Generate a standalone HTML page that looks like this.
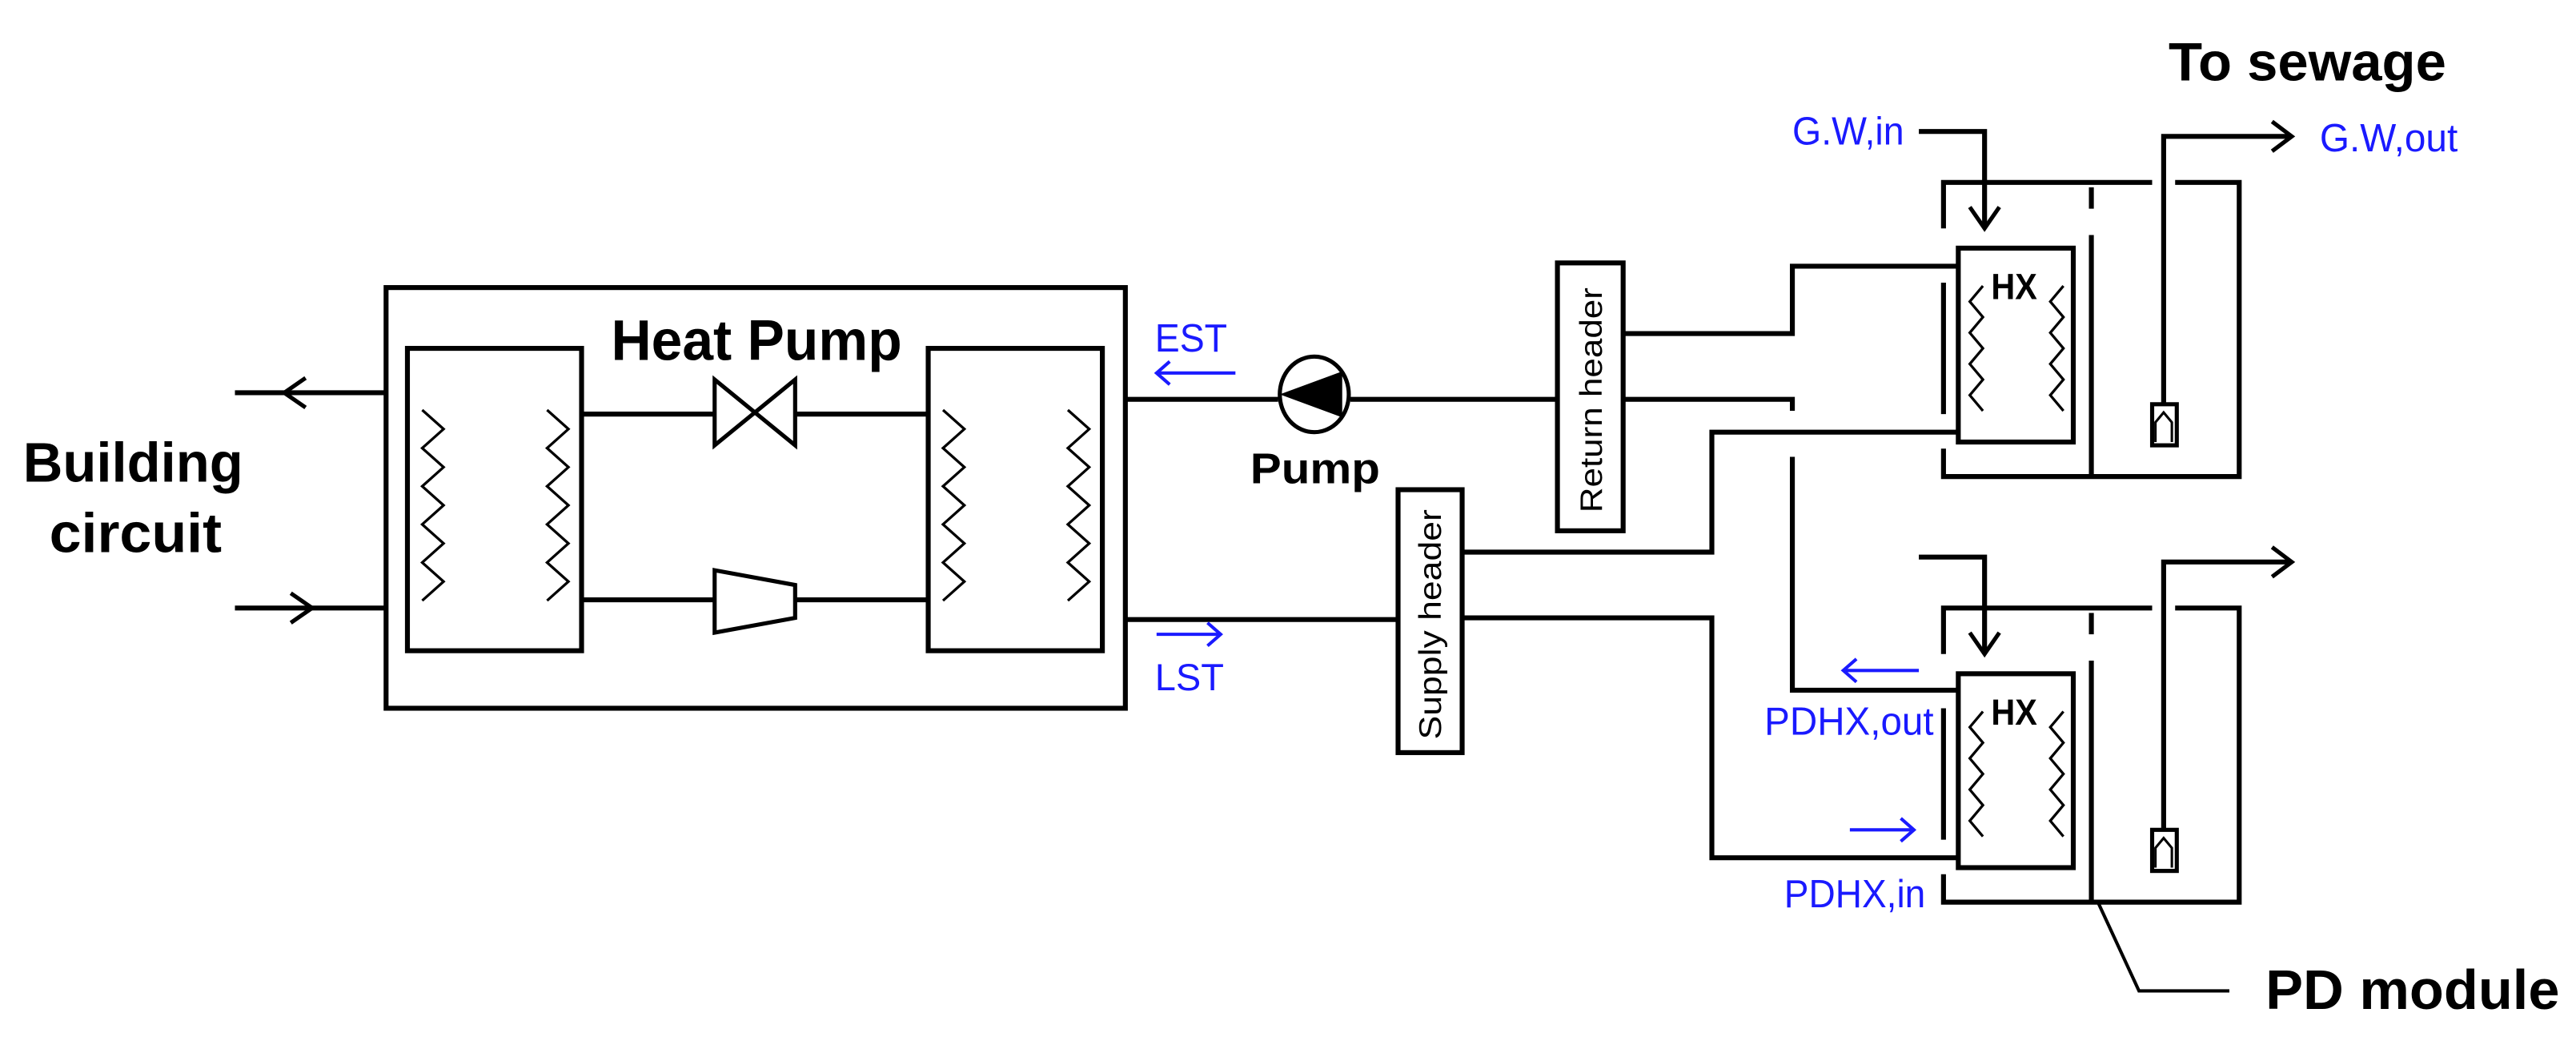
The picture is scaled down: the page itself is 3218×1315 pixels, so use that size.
<!DOCTYPE html>
<html><head><meta charset="utf-8"><style>
html,body{margin:0;padding:0;background:#fff;}
svg{display:block;}
text{font-family:"Liberation Sans",Arial,sans-serif;}
.b{font-weight:bold;fill:#000;}
.bl{fill:#1a1aff;}
</style></head><body>
<svg width="3218" height="1315" viewBox="0 0 1568 640.8" preserveAspectRatio="none" xmlns="http://www.w3.org/2000/svg">
<defs>
<polyline id="zz" points="0,0 13,11.6 0,23.2 13,34.8 0,46.4 13,58 0,69.6 13,81.2 0,92.8 13,104.4 0,116" fill="none" stroke="#000" stroke-width="1.6"/>
<polyline id="zs" points="8,0 0,9.5 8,19 0,28.5 8,38 0,47.5 8,57 0,66.5 8,76" fill="none" stroke="#000" stroke-width="1.6"/>
</defs>
<g fill="none" stroke="#000" stroke-width="3">
<!-- heat pump -->
<rect x="235" y="175" width="450" height="256"/>
<rect x="248" y="212" width="106" height="184"/>
<rect x="565" y="212" width="106" height="184"/>
<line x1="354" y1="252" x2="435" y2="252"/><line x1="484" y1="252" x2="565" y2="252"/>
<path d="M435 231 L435 271 L484 231 L484 271 Z" stroke-width="2.5"/>
<line x1="354" y1="365" x2="435" y2="365"/><line x1="484" y1="365" x2="565" y2="365"/>
<path d="M435 347 L484 356 L484 376 L435 385 Z" stroke-width="2.5"/>
<!-- building -->
<line x1="143" y1="239" x2="235" y2="239"/>
<polyline points="186,230 173,239 186,248" stroke-width="2.5"/>
<line x1="143" y1="370" x2="235" y2="370"/>
<polyline points="177,361 190,370 177,379" stroke-width="2.5"/>
<!-- pump line -->
<line x1="685" y1="243" x2="778" y2="243"/>
<line x1="822" y1="243" x2="948" y2="243"/>
<ellipse cx="800" cy="240" rx="21" ry="23" stroke-width="2.5"/>
<line x1="685" y1="377" x2="851" y2="377"/>
<!-- headers -->
<rect x="948" y="160" width="40" height="163"/>
<rect x="851" y="298" width="39" height="160"/>
<polyline points="988,203 1091,203 1091,162 1192,162"/>
<polyline points="988,243 1091,243 1091,250"/>
<polyline points="1091,278 1091,420 1192,420"/>
<polyline points="890,336 1042,336 1042,263 1192,263"/>
<polyline points="890,376 1042,376 1042,522 1192,522"/>
<!-- G.W in arrow -->
<polyline points="1168,80 1208,80 1208,138"/>
<polyline points="1199,126 1208,139 1217,126" stroke-width="2.5"/>
<polyline points="1168,339 1208,339 1208,397"/>
<polyline points="1199,385 1208,398 1217,385" stroke-width="2.5"/>
<!-- PD leader -->
<polyline points="1277,549 1302,603 1357,603" stroke-width="2"/>
</g>
<!-- tanks -->
<g id="tank" fill="none" stroke="#000" stroke-width="3">
<rect x="1192" y="151" width="70" height="118"/>
<polyline points="1183,139 1183,111 1310,111"/>
<polyline points="1324,111 1363,111 1363,290 1183,290 1183,273"/>
<line x1="1183" y1="172" x2="1183" y2="252"/>
<line x1="1273" y1="114" x2="1273" y2="127"/>
<line x1="1273" y1="143" x2="1273" y2="290"/>
<polyline points="1317,246 1317,83 1394,83"/>
<polyline points="1383,74 1395,83 1383,92" stroke-width="2.5"/>
<rect x="1310" y="246" width="15" height="25" stroke-width="2.5"/>
<polyline points="1312,269 1312,257 1317,251 1322,257 1322,269" stroke-width="1.5"/>
</g>
<use href="#tank" transform="translate(0,259)"/>
<use href="#zz" x="257" y="249.5"/><use href="#zz" x="333" y="249.5"/>
<use href="#zz" x="574" y="249.5"/><use href="#zz" x="650" y="249.5"/>
<use href="#zs" x="1199" y="174"/><use href="#zs" x="1248" y="174"/>
<use href="#zs" x="1199" y="433"/><use href="#zs" x="1248" y="433"/>
<!-- pump triangle -->
<polygon points="779,240 817,226 817,254" fill="#000"/>
<!-- blue arrows -->
<g fill="none" stroke="#1a1aff" stroke-width="2">
<line x1="704" y1="227" x2="752" y2="227"/><polyline points="712,220 704,227 712,234"/>
<line x1="704" y1="386" x2="743" y2="386"/><polyline points="735,379 743,386 735,393"/>
<line x1="1122" y1="408" x2="1168" y2="408"/><polyline points="1130,401 1122,408 1130,415"/>
<line x1="1126" y1="505" x2="1165" y2="505"/><polyline points="1157,498 1165,505 1157,512"/>
</g>
<!-- text -->
<text class="b" x="372" y="219" font-size="35" textLength="177" lengthAdjust="spacingAndGlyphs">Heat Pump</text>
<text class="b" x="14" y="293" font-size="34" textLength="134" lengthAdjust="spacingAndGlyphs">Building</text>
<text class="b" x="30" y="336" font-size="34" textLength="105" lengthAdjust="spacingAndGlyphs">circuit</text>
<text class="b" x="761" y="294" font-size="26" textLength="79" lengthAdjust="spacingAndGlyphs">Pump</text>
<text class="b" x="1320" y="49" font-size="33" textLength="169" lengthAdjust="spacingAndGlyphs">To sewage</text>
<text class="b" x="1379" y="614" font-size="34" textLength="179" lengthAdjust="spacingAndGlyphs">PD module</text>
<text class="b" x="1212" y="182" font-size="22" textLength="28" lengthAdjust="spacingAndGlyphs">HX</text>
<text class="b" x="1212" y="441" font-size="22" textLength="28" lengthAdjust="spacingAndGlyphs">HX</text>
<text class="b" font-size="19" transform="translate(975,312) rotate(-90)" textLength="137" lengthAdjust="spacingAndGlyphs" style="font-weight:normal">Return header</text>
<text class="b" font-size="19" transform="translate(877,450) rotate(-90)" textLength="140" lengthAdjust="spacingAndGlyphs" style="font-weight:normal">Supply header</text>
<text class="bl" x="703" y="214" font-size="24" textLength="44" lengthAdjust="spacingAndGlyphs">EST</text>
<text class="bl" x="703" y="420" font-size="23" textLength="42" lengthAdjust="spacingAndGlyphs">LST</text>
<text class="bl" x="1091" y="88" font-size="24" textLength="68" lengthAdjust="spacingAndGlyphs">G.W,in</text>
<text class="bl" x="1412" y="92" font-size="24" textLength="84" lengthAdjust="spacingAndGlyphs">G.W,out</text>
<text class="bl" x="1074" y="447" font-size="24" textLength="103" lengthAdjust="spacingAndGlyphs">PDHX,out</text>
<text class="bl" x="1086" y="552" font-size="24" textLength="86" lengthAdjust="spacingAndGlyphs">PDHX,in</text>
</svg>
</body></html>
